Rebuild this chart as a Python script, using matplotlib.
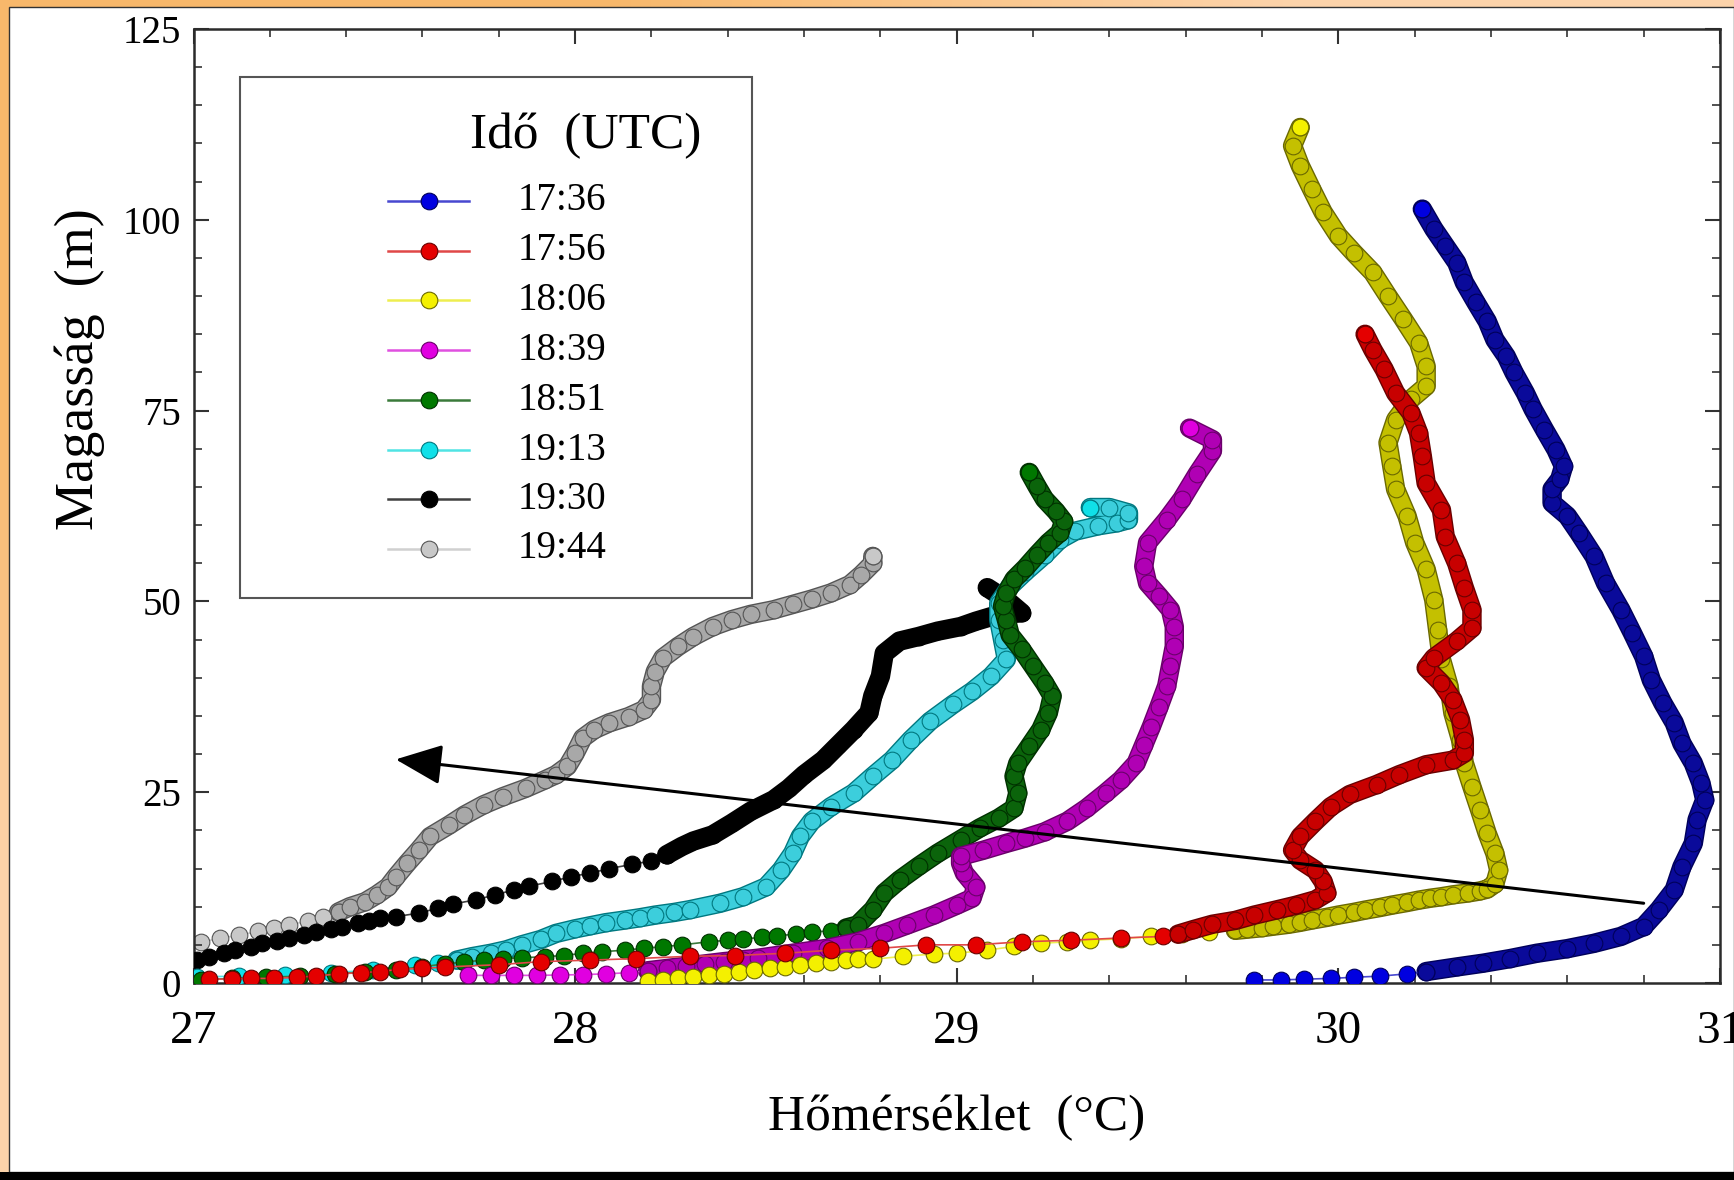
import numpy as np
import matplotlib
matplotlib.use('Agg')
import matplotlib.pyplot as plt
import matplotlib.patheffects as pe
from matplotlib.patches import Rectangle
from matplotlib.lines import Line2D

plt.rcParams['font.family'] = ['Liberation Serif', 'DejaVu Serif']

# ---- data: temperature (deg C) and height (m) per launch time ----
times = ['17:36', '17:56', '18:06', '18:39', '18:51', '19:13', '19:30', '19:44']

t_1736 = [29.78, 29.85, 29.91, 29.98, 30.04, 30.11, 30.18,
          30.23, 30.31, 30.38, 30.45, 30.52, 30.60, 30.67, 30.74, 30.80, 30.84,
          30.88, 30.90, 30.93, 30.94, 30.96, 30.95, 30.93, 30.90, 30.88, 30.85,
          30.82, 30.80, 30.77, 30.74, 30.70, 30.67, 30.63, 30.60, 30.56, 30.56,
          30.58, 30.59, 30.57, 30.54, 30.51, 30.49, 30.46, 30.44, 30.41, 30.39,
          30.36, 30.33, 30.31, 30.28, 30.25, 30.22]
h_1736 = [0.4, 0.4, 0.5, 0.6, 0.75, 0.9, 1.2,
          1.5, 2.1, 2.6, 3.2, 3.9, 4.5, 5.2, 6.1, 7.4, 9.6,
          12.2, 15.2, 18.3, 21.4, 24.0, 26.2, 28.8, 31.4, 34.1, 36.7,
          39.7, 42.8, 45.9, 48.9, 52.4, 55.9, 59.0, 61.2, 62.9, 64.7,
          66.0, 67.7, 69.9, 72.5, 75.2, 77.3, 80.0, 82.1, 84.3, 86.7,
          89.2, 91.8, 94.4, 96.6, 98.8, 101.4]

t_1756 = [27.04, 27.10, 27.15, 27.21, 27.27, 27.32, 27.38, 27.44, 27.49, 27.54, 27.60, 27.66,
          27.80, 27.91, 28.04, 28.16, 28.30, 28.42, 28.55, 28.67, 28.80, 28.92, 29.05, 29.17,
          29.30, 29.43, 29.54,
          29.58, 29.62, 29.67, 29.73, 29.78, 29.84, 29.89, 29.94, 29.97, 29.96,
          29.94, 29.90, 29.88, 29.90, 29.94, 29.98, 30.03, 30.10, 30.16, 30.23,
          30.30, 30.33, 30.33, 30.32, 30.30, 30.27, 30.23, 30.25, 30.31, 30.35,
          30.35, 30.33, 30.31, 30.28, 30.27, 30.23, 30.22, 30.21, 30.19, 30.15,
          30.12, 30.09, 30.07]
h_1756 = [0.5, 0.5, 0.6, 0.6, 0.75, 0.9, 1.2, 1.35, 1.5, 1.8, 1.9, 2.1,
          2.4, 2.8, 3.0, 3.2, 3.5, 3.6, 3.9, 4.3, 4.55, 5.0, 5.0, 5.4,
          5.6, 5.9, 6.1,
          6.4, 7.0, 7.7, 8.2, 8.9, 9.6, 10.2, 10.9, 11.8, 13.3,
          14.8, 16.1, 17.4, 19.2, 21.2, 23.1, 24.7, 26.0, 27.3, 28.6,
          29.2, 30.1, 31.9, 34.5, 37.1, 39.3, 41.3, 42.6, 44.8, 46.5,
          48.9, 51.8, 55.0, 58.5, 62.0, 65.5, 69.0, 72.1, 74.7, 77.3,
          80.4, 83.0, 85.0]

t_1806 = [28.19, 28.23, 28.27, 28.31, 28.35, 28.39, 28.43, 28.47, 28.51, 28.55, 28.59, 28.63,
          28.67, 28.71, 28.74,
          28.78, 28.86, 28.94, 29.00, 29.08, 29.15, 29.22, 29.29, 29.35, 29.43, 29.51, 29.59, 29.66,
          29.73, 29.76, 29.80, 29.83, 29.87, 29.90, 29.93, 29.97, 30.00, 30.04,
          30.07, 30.11, 30.14, 30.18, 30.21, 30.24, 30.27, 30.30, 30.34, 30.37,
          30.39, 30.41,
          30.42, 30.41, 30.39, 30.37, 30.35, 30.33, 30.32, 30.30, 30.29, 30.27,
          30.26, 30.25, 30.23, 30.20, 30.18, 30.15, 30.14, 30.13, 30.15, 30.19,
          30.23, 30.23, 30.21, 30.17, 30.13, 30.09, 30.04, 30.00, 29.96, 29.93,
          29.90, 29.88, 29.90]
h_1806 = [0.2, 0.4, 0.6, 0.8, 1.0, 1.2, 1.45, 1.7, 1.95, 2.15, 2.4, 2.6,
          2.8, 3.0, 3.1,
          3.1, 3.5, 3.8, 3.9, 4.3, 4.8, 5.2, 5.4, 5.6, 5.8, 6.1, 6.4, 6.7,
          6.9, 7.05, 7.25, 7.45, 7.7, 7.95, 8.25, 8.6, 8.9, 9.25,
          9.55, 9.9, 10.2, 10.55, 10.85, 11.1, 11.3, 11.55, 11.8, 12.05,
          12.3, 13.0,
          14.8, 17.0, 19.6, 22.7, 25.7, 28.8, 31.9, 35.4, 38.9, 42.4,
          46.3, 50.2, 54.2, 57.7, 61.2, 64.7, 67.7, 70.8, 73.8, 76.5,
          78.2, 80.8, 83.9, 87.0, 90.0, 93.1, 95.7, 97.9, 101.0, 104.0,
          107.1, 109.7, 112.1]

t_1839 = [27.72, 27.78, 27.84, 27.90, 27.96, 28.02, 28.08, 28.14,
          28.19, 28.24, 28.29, 28.34, 28.39, 28.44, 28.48, 28.57, 28.66, 28.74,
          28.81, 28.87, 28.94, 29.00, 29.04, 29.05, 29.02, 29.01, 29.01, 29.07,
          29.13, 29.18, 29.23, 29.29, 29.34, 29.39, 29.43, 29.47, 29.49, 29.51,
          29.53, 29.55, 29.56, 29.57, 29.57, 29.56, 29.53, 29.50, 29.49, 29.50,
          29.55, 29.59, 29.63, 29.67, 29.67, 29.61]
h_1839 = [1.0, 1.0, 1.0, 1.0, 1.05, 1.1, 1.2, 1.35,
          1.6, 1.9, 2.2, 2.5, 2.8, 3.05, 3.25, 3.9, 4.55, 5.4,
          6.5, 7.6, 8.9, 10.2, 11.1, 12.6, 14.4, 15.7, 16.6, 17.4,
          18.3, 19.0, 19.8, 21.2, 22.9, 24.9, 26.6, 28.8, 31.2, 33.6,
          36.2, 38.9, 41.5, 44.1, 46.7, 48.9, 50.7, 52.4, 54.6, 57.7,
          60.7, 63.4, 66.7, 69.7, 71.2, 72.7]

t_1851 = [27.02, 27.10, 27.19, 27.28, 27.37, 27.45, 27.53, 27.60, 27.66, 27.71,
          27.76, 27.81, 27.86, 27.92, 27.97, 28.02, 28.07, 28.13, 28.18, 28.23,
          28.28, 28.35, 28.40, 28.44, 28.49, 28.53, 28.58, 28.62, 28.67, 28.71,
          28.74, 28.78, 28.81, 28.85, 28.90, 28.95, 29.01, 29.06, 29.11, 29.15,
          29.16, 29.15, 29.16, 29.19, 29.22, 29.24, 29.25, 29.23, 29.20, 29.17,
          29.14, 29.13, 29.12, 29.13, 29.15, 29.18, 29.21, 29.24, 29.27, 29.28,
          29.26, 29.23, 29.21, 29.19]
h_1851 = [0.4, 0.6, 0.75, 0.9, 1.2, 1.45, 1.7, 2.15, 2.5, 2.75,
          3.0, 3.2, 3.3, 3.45, 3.6, 3.9, 4.1, 4.3, 4.55, 4.75,
          5.0, 5.4, 5.6, 5.75, 6.0, 6.2, 6.4, 6.65, 6.85, 7.2,
          7.6, 9.6, 11.8, 13.5, 15.3, 17.0, 18.8, 20.3, 21.6, 22.9,
          24.9, 27.1, 28.8, 31.0, 33.2, 35.4, 37.6, 39.3, 41.5, 43.7,
          45.6, 47.6, 49.4, 51.1, 52.9, 54.4, 56.1, 57.7, 59.0, 60.5,
          61.8, 63.4, 65.1, 66.9]

t_1913 = [27.01, 27.12, 27.24, 27.36, 27.47, 27.58, 27.64,
          27.69, 27.73, 27.78, 27.82, 27.86, 27.91, 27.95, 28.00, 28.04, 28.08,
          28.13, 28.17, 28.21, 28.26, 28.30, 28.38, 28.44, 28.50, 28.54, 28.57,
          28.59, 28.62, 28.67, 28.73, 28.78, 28.83, 28.88, 28.93, 28.99, 29.04,
          29.09, 29.13, 29.12, 29.11, 29.11, 29.14, 29.18, 29.23, 29.27, 29.31,
          29.37, 29.42, 29.45, 29.45, 29.40, 29.35]
h_1913 = [0.8, 0.9, 1.1, 1.35, 1.7, 2.3, 2.65,
          3.0, 3.45, 3.9, 4.35, 5.0, 5.7, 6.5, 7.1, 7.5, 7.9,
          8.25, 8.55, 8.9, 9.25, 9.6, 10.45, 11.3, 12.6, 14.8, 17.0,
          19.2, 21.2, 23.1, 24.9, 27.1, 29.2, 31.9, 34.3, 36.5, 38.2,
          40.2, 42.4, 45.0, 47.6, 49.8, 52.0, 53.9, 56.1, 58.1, 59.2,
          59.9, 60.3, 60.7, 61.6, 62.3, 62.3]

t_1930 = [27.01, 27.04, 27.08, 27.11, 27.15, 27.18, 27.22, 27.25, 27.29, 27.32,
          27.36, 27.39, 27.43, 27.46, 27.49,
          27.53, 27.59, 27.64, 27.68, 27.74, 27.79, 27.84, 27.88, 27.94, 27.99,
          28.04, 28.09, 28.15, 28.20,
          28.24, 28.28, 28.31, 28.36, 28.41, 28.46, 28.52, 28.56, 28.60, 28.65,
          28.69, 28.73, 28.77, 28.78, 28.80, 28.81, 28.85, 28.90, 28.95, 29.01,
          29.05, 29.09, 29.14, 29.17, 29.13, 29.08]
h_1930 = [3.0, 3.45, 3.9, 4.3, 4.75, 5.2, 5.55, 5.95, 6.3, 6.7,
          7.05, 7.4, 7.8, 8.15, 8.5,
          8.7, 9.15, 9.8, 10.35, 10.9, 11.55, 12.2, 12.7, 13.3, 13.95,
          14.4, 15.0, 15.55, 16.0,
          16.8, 17.9, 18.6, 19.4, 20.9, 22.5, 24.0, 25.5, 27.3, 29.2,
          31.2, 33.2, 35.4, 37.6, 40.2, 43.2, 44.8, 45.4, 46.1, 46.7,
          47.4, 48.0, 48.4, 48.5, 50.2, 51.8]

t_1944 = [27.02, 27.07, 27.12, 27.17, 27.21, 27.25, 27.30, 27.34,
          27.38, 27.41, 27.45, 27.48, 27.51, 27.53, 27.56, 27.59, 27.62, 27.67,
          27.71, 27.76, 27.81, 27.87, 27.92, 27.95, 27.98, 28.00, 28.02, 28.05,
          28.09, 28.14, 28.18, 28.20, 28.20, 28.21, 28.23, 28.27, 28.31, 28.36,
          28.41, 28.46, 28.52, 28.57, 28.62, 28.67, 28.72, 28.75, 28.78, 28.78]
h_1944 = [5.4, 5.85, 6.3, 6.75, 7.2, 7.6, 8.15, 8.7,
          9.3, 10.0, 10.65, 11.55, 12.6, 13.9, 15.7, 17.4, 19.2, 20.7,
          22.0, 23.35, 24.4, 25.5, 26.6, 27.3, 28.4, 30.1, 32.1, 33.2,
          34.1, 34.9, 35.8, 37.1, 38.9, 40.8, 42.6, 44.1, 45.4, 46.7,
          47.6, 48.3, 48.9, 49.6, 50.3, 51.1, 52.2, 53.5, 55.0, 55.9]

temps = [t_1736, t_1756, t_1806, t_1839, t_1851, t_1913, t_1930, t_1944]
heights = [h_1736, h_1756, h_1806, h_1839, h_1851, h_1913, h_1930, h_1944]

# trend arrow (start, tip) in data units
arrow_start = (30.80, 10.45)
arrow_tip = (27.53, 29.3)

# ---- styles ----
face_c = ['#0000e0', '#e40000', '#f4f000', '#e000e0', '#007800', '#10e0e8', '#000000', '#c8c8c8']
edge_c = ['#00005a', '#6a0000', '#6a6800', '#6a006a', '#003000', '#007880', '#000000', '#555555']
tube_c = ['#0a0a9a', '#c80000', '#c4c000', '#b000b4', '#0b640b', '#3ccedc', '#000000', '#a8a8a8']
line_c = ['#4848d0', '#e04848', '#eeee50', '#e050e0', '#3a7a3a', '#50e4e4', '#404040', '#d0d0d0']
dense_from = [7, 27, 28, 8, 29, 7, 29, 8]

W, H = 1734, 1180
fig = plt.figure(figsize=(W / 100, H / 100), dpi=100)

# orange page background with white panel and black bottom strip
bg = fig.add_axes([0, 0, 1, 1], zorder=-10)
yy, xx = np.mgrid[0:1:118j, 0:1:173j]
r = np.clip((xx + yy - 0.35) / 0.4, 0, 1)[..., None]
c0 = np.array([0.973, 0.722, 0.420])
c1 = np.array([0.992, 0.830, 0.670])
bg.imshow(c0 * (1 - r) + c1 * r, extent=[0, 1, 0, 1], origin='upper', aspect='auto')
bg.axis('off')
fig.add_artist(Rectangle((9 / W, 8 / H), 1 - 9 / W, 1 - 15 / H, transform=fig.transFigure,
                         facecolor='white', edgecolor='#333333', lw=1.0, zorder=-5))
fig.add_artist(Rectangle((0, 0), 1, 8 / H, transform=fig.transFigure,
                         facecolor='black', edgecolor='none', zorder=-4))

ax = fig.add_axes([193.5 / W, 1 - 983 / H, (1720 - 193.5) / W, (983 - 29) / H])
ax.set_facecolor('white')

for i in range(len(times)):
    z = 20 - 3 * i
    t, h = temps[i], heights[i]
    d = dense_from[i]
    # thick tube where the soundings are densely sampled
    ax.plot(t[d:], h[d:], color=tube_c[i], lw=12, solid_capstyle='round',
            solid_joinstyle='round', zorder=z,
            path_effects=[pe.Stroke(linewidth=14, foreground=edge_c[i]), pe.Normal()])
    # sparse lower part: bright markers on a thin line
    ax.plot(t[:d + 1], h[:d + 1], '-', color=line_c[i], lw=1.2, marker='o', ms=12,
            mfc=face_c[i], mec=edge_c[i], mew=0.8, zorder=z + 1)
    # dense part: overlapping markers look darker
    ax.plot(t[d:], h[d:], 'o', ms=12, mfc=tube_c[i], mec=edge_c[i], mew=0.8, zorder=z + 1)
    # last sample stays bright on top
    ax.plot(t[-1:], h[-1:], 'o', ms=12, mfc=face_c[i], mec=edge_c[i], mew=0.8, zorder=z + 2)

ax.annotate('', xy=arrow_tip, xytext=arrow_start, zorder=30,
            arrowprops=dict(arrowstyle='-|>,head_length=1.15,head_width=0.5',
                            lw=2.2, color='black', mutation_scale=25,
                            shrinkA=0, shrinkB=0))

ax.set_xlim(27, 31)
ax.set_ylim(0, 125)
ax.set_xticks([27, 28, 29, 30, 31])
ax.set_xticks(np.arange(27, 31.01, 0.2), minor=True)
ax.set_yticks([0, 25, 50, 75, 100, 125])
ax.set_yticks(np.arange(0, 126, 5), minor=True)
ax.tick_params(which='both', direction='in', top=True, right=True, color='#333333')
ax.tick_params(which='major', length=11, width=1.5)
ax.tick_params(which='minor', length=6, width=1.2)
ax.tick_params(axis='x', which='major', labelsize=34, pad=20)
ax.tick_params(axis='y', which='major', labelsize=28, pad=9)
for s in ax.spines.values():
    s.set_color('#2b2b2b')
    s.set_linewidth(1.8)

ax.set_xlabel('Hőmérséklet  (°C)', fontsize=37)
ax.xaxis.set_label_coords(0.5, -0.1415)
ax.xaxis.label.set_verticalalignment('center')
ax.set_ylabel('Magasság  (m)', fontsize=39)
ax.yaxis.set_label_coords(-0.0744, 0.643)
ax.yaxis.label.set_verticalalignment('center')

# legend drawn by hand to match the boxed layout
def fx(px):
    return (px - 193.5) / 1526.5

def fy(py):
    return (983 - py) / 954

ax.add_patch(Rectangle((fx(240), fy(598)), fx(752) - fx(240), fy(77) - fy(598),
                       transform=ax.transAxes, facecolor='white', edgecolor='#555555',
                       lw=1.5, zorder=40))
ax.text(fx(586), fy(136), 'Idő  (UTC)', transform=ax.transAxes, fontsize=37,
        ha='center', va='center', zorder=41)
rows = [201, 251, 300, 350, 400, 450, 499, 549]
for i, lab in enumerate(times):
    yr = fy(rows[i])
    ax.add_line(Line2D([fx(388), fx(469)], [yr, yr], transform=ax.transAxes,
                       color=line_c[i], lw=1.8, zorder=41))
    ax.add_line(Line2D([fx(429)], [yr], transform=ax.transAxes, marker='o', ms=12,
                       mfc=face_c[i], mec=edge_c[i], mew=0.8, zorder=42))
    ax.text(fx(518), yr, lab, transform=ax.transAxes, fontsize=28,
            ha='left', va='center', zorder=42)

fig.savefig('out.png', dpi=100)
